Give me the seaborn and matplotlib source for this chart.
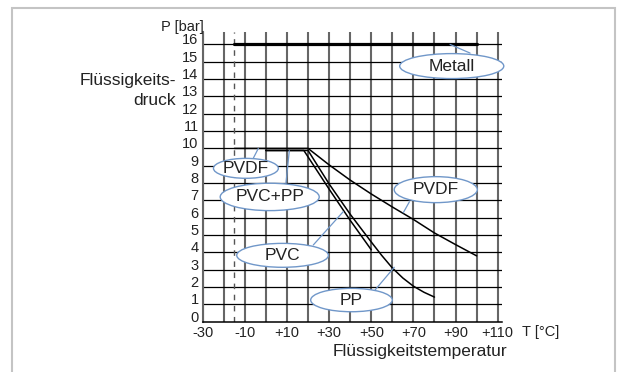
import numpy as np
import pandas as pd
import seaborn as sns
import matplotlib.pyplot as plt
from matplotlib.patches import Ellipse, Rectangle

# values (T in degC, P in bar)
temp_metall = [-15, 100]
p_metall = [16, 16]

temp_pvdf = [-15, 20, 30, 40, 50, 60, 70, 80, 90, 100]
p_pvdf = [10, 10, 9.05, 8.17, 7.37, 6.62, 5.9, 5.12, 4.45, 3.8]

temp_pvc = [0, 18, 30, 40, 50]
p_pvc = [9.88, 9.88, 7.65, 5.85, 4.15]

temp_pp = [0, 20, 30, 40, 50, 55, 60, 65, 70, 75, 80]
p_pp = [9.88, 9.88, 7.95, 6.2, 4.6, 3.82, 3.1, 2.52, 2.05, 1.7, 1.42]

x_ticks = np.arange(-30, 111, 10)
x_ticklabels = ["-30", "", "-10", "", "+10", "", "+30", "", "+50", "", "+70", "", "+90", "", "+110"]
y_ticks = np.arange(0, 17, 1)

callout_text = ["Metall", "PVDF", "PVC+PP", "PVC", "PVDF", "PP"]

# callout layout (ellipse centre, size, leader line) in data units
callout_xy = [(88.2, 14.75), (-9.5, 8.85), (1.8, 7.2), (7.9, 3.83), (80.6, 7.62), (40.6, 1.25)]
callout_wh = [(49.4, 1.44), (30.8, 1.15), (47, 1.58), (43.5, 1.38), (39.4, 1.5), (38.7, 1.35)]
leaders = [((87.4, 96.9), (16.0, 15.5)),
           ((-6.0, -3.6), (9.43, 10.0)),
           ((9.5, 11.1), (7.98, 9.87)),
           ((22.5, 36.7), (4.43, 6.35)),
           ((68.1, 65.2), (6.92, 6.29)),
           ((51.8, 60.9), (1.83, 3.14))]

sns.set_style("white")
plt.rcParams['font.family'] = ['Liberation Sans', 'DejaVu Sans']

fig = plt.figure(figsize=(6.22, 3.72), dpi=100)
ax = fig.add_axes([0.3259, 0.1352, 0.481, 0.778])

grey = '#666666'
blue = '#7097c9'

# grid
for xv in x_ticks:
    ax.axvline(xv, color=grey, lw=1.5, zorder=1)
for yv in y_ticks[1:]:
    ax.axhline(yv, color='black', lw=0.9, zorder=1)
ax.axvline(-15, color='#555555', lw=1.0, ls=(0, (4, 4)), zorder=1)

# curves
sns.lineplot(x=temp_metall, y=p_metall, ax=ax, color='black', lw=2.3, estimator=None, sort=False, zorder=3)
sns.lineplot(x=temp_pvdf, y=p_pvdf, ax=ax, color='black', lw=1.1, estimator=None, sort=False, zorder=3)
sns.lineplot(x=temp_pvc, y=p_pvc, ax=ax, color='black', lw=1.1, estimator=None, sort=False, zorder=3)
sns.lineplot(x=temp_pp, y=p_pp, ax=ax, color='black', lw=1.1, estimator=None, sort=False, zorder=3)

# callouts
for txt, (cx, cy), (w, h), (lx, ly) in zip(callout_text, callout_xy, callout_wh, leaders):
    ax.plot(lx, ly, color=blue, lw=0.9, zorder=4)
    ax.add_patch(Ellipse((cx, cy), w, h, facecolor='white', edgecolor=blue, lw=1.0, zorder=5, clip_on=False))
    ax.text(cx, cy, txt, ha='center', va='center', fontsize=12.5, color='#222222', zorder=6)

ax.set_xlim(-30, 112)
ax.set_ylim(0, 16.7)
ax.set_xticks(x_ticks)
ax.set_xticklabels(x_ticklabels)
ax.set_yticks(y_ticks)
ax.set_yticklabels([str(v) for v in y_ticks], va='baseline')
ax.tick_params(axis='both', length=0, labelsize=10.5, colors='#222222')
ax.tick_params(axis='x', pad=3)
ax.tick_params(axis='y', pad=3)
for s in ['top', 'right']:
    ax.spines[s].set_visible(False)
ax.spines['left'].set_color(grey)
ax.spines['left'].set_linewidth(1.5)
ax.spines['bottom'].set_color('black')
ax.spines['bottom'].set_linewidth(1.1)
ax.set_xlabel("")
ax.set_ylabel("")

fig.text(0.328, 0.927, "P [bar]", ha='right', va='center', fontsize=10.5, color='#222222')
fig.text(0.283, 0.804, "Flüssigkeits-\ndruck", ha='right', va='top', fontsize=12.5,
         linespacing=1.4, color='#222222')
fig.text(0.840, 0.097, "T [°C]", ha='left', va='baseline', fontsize=10.5, color='#222222')
fig.text(0.675, 0.044, "Flüssigkeitstemperatur", ha='center', va='baseline', fontsize=12.5, color='#222222')

# outer frame
fig.add_artist(Rectangle((11.7 / 622, -0.1), (615 - 11.7) / 622, 1.1 - 8.3 / 372,
                         transform=fig.transFigure, fill=False, ec='#c4c4c4', lw=1.5))

fig.savefig("out.png", dpi=100)
